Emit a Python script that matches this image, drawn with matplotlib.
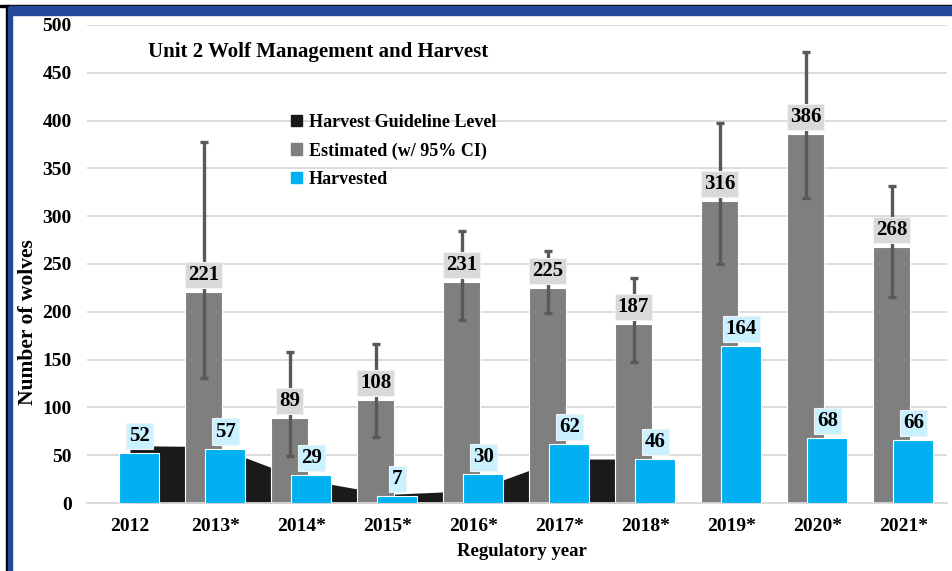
import matplotlib
matplotlib.use("Agg")
import matplotlib.pyplot as plt
from matplotlib.patches import Patch, Rectangle
import numpy as np

years = ["2012", "2013*", "2014*", "2015*", "2016*", "2017*", "2018*", "2019*", "2020*", "2021*"]
estimated = [None, 221, 89, 108, 231, 225, 187, 316, 386, 268]
ci_low = [None, 131, 49, 69, 191, 199, 148, 250, 319, 216]
ci_high = [None, 378, 158, 166, 285, 264, 235, 398, 472, 332]
harvested = [52, 57, 29, 7, 30, 62, 46, 164, 68, 66]
guideline = [60, 59, 25, 9, 13, 46, 46]  # 2012 - 2018

C_BLACK = "#1a1a1a"
C_GRAY = "#7f7f7f"
C_BLUE = "#00b0f0"
C_ERR = "#595959"

plt.rcParams["font.family"] = ["Liberation Serif", "DejaVu Serif"]
plt.rcParams["font.weight"] = "bold"

fig = plt.figure(figsize=(9.53, 5.71), dpi=100)
ax = fig.add_axes([87/953, 1-503/571, (947-87)/953, (503-25)/571])

x = np.arange(len(years))

# guideline area
xg = np.arange(len(guideline))
ax.fill_between(xg, 0, guideline, color=C_BLACK, lw=0, zorder=1)

# estimated bars
gx = [i - 0.145 for i, v in enumerate(estimated) if v is not None]
gv = [v for v in estimated if v is not None]
glo = [v - l for v, l in zip(estimated, ci_low) if v is not None]
ghi = [h - v for v, h in zip(estimated, ci_high) if v is not None]
ax.bar(gx, gv, width=0.44, color=C_GRAY, edgecolor="white", linewidth=0.8, zorder=2)
ax.errorbar(gx, gv, yerr=[glo, ghi], fmt="none", ecolor=C_ERR, elinewidth=2.4,
            capsize=3, capthick=2.4, zorder=2.5)

# harvested bars
bx = x + 0.11
ax.bar(bx, harvested, width=0.465, color=C_BLUE, edgecolor="white", linewidth=0.8, zorder=3)

lab_fs = 15
for xi, v in zip(gx, gv):
    ax.annotate(str(v), (xi, v), xytext=(0, 5), textcoords="offset points",
                ha="center", va="bottom", fontsize=lab_fs, fontweight="bold", zorder=5,
                bbox=dict(boxstyle="square,pad=0.15", fc="#d9d9d9", ec="#f2f2f2", lw=0.8))
for xi, v in zip(bx, harvested):
    ax.annotate(str(v), (xi, v), xytext=(0, 5), textcoords="offset points",
                ha="center", va="bottom", fontsize=lab_fs, fontweight="bold", zorder=5,
                bbox=dict(boxstyle="square,pad=0.15", fc="#c9f1ff", ec="#f2f2f2", lw=0.8))

ax.set_xlim(-0.5, len(years) - 0.5)
ax.set_ylim(0, 500)
ax.set_yticks(np.arange(0, 501, 50))
ax.set_xticks(x)
ax.set_xticklabels(years)
ax.tick_params(axis="both", length=0, labelsize=14)
ax.tick_params(axis="x", pad=11)
ax.tick_params(axis="y", pad=11)
for lab in ax.get_xticklabels() + ax.get_yticklabels():
    lab.set_fontweight("bold")
ax.grid(axis="y", color="#d9d9d9", lw=1.3, zorder=0)
ax.set_axisbelow(True)
for s in ["top", "right", "left"]:
    ax.spines[s].set_visible(False)
ax.spines["bottom"].set_color("#d9d9d9")
ax.spines["bottom"].set_linewidth(1.3)

ax.set_xlabel("Regulatory year", fontsize=13.5, fontweight="bold")
ax.set_ylabel("Number of wolves", fontsize=15.5, fontweight="bold")
ax.xaxis.set_label_coords((522-87)/860, -(551-503)/478, transform=ax.transAxes)
ax.xaxis.label.set_va("center")
ax.yaxis.set_label_coords((28-87)/860, (503-322)/478, transform=ax.transAxes)
ax.yaxis.label.set_va("center")

fig.text(148/953, 1-52/571, "Unit 2 Wolf Management and Harvest", fontsize=15,
         fontweight="bold", ha="left", va="center")

handles = [Patch(color=C_BLACK), Patch(color=C_GRAY), Patch(color=C_BLUE)]
labels = ["Harvest Guideline Level", "Estimated (w/ 95% CI)", "Harvested"]
leg = ax.legend(handles, labels, loc="upper left", bbox_to_anchor=(291/953, 1-114/571),
                bbox_transform=fig.transFigure, frameon=False, fontsize=13,
                handlelength=0.6, handleheight=0.6, handletextpad=0.4,
                labelspacing=0.62, borderpad=0, borderaxespad=0)
for t in leg.get_texts():
    t.set_fontweight("bold")

# slide border
fig.patches.append(Rectangle((0, 1-6.5/571), 1, 2/571, transform=fig.transFigure,
                             color="black", zorder=10))
fig.patches.append(Rectangle((8/953, 1-14.5/571), 1, 8/571, transform=fig.transFigure,
                             color="#24489a", zorder=10))
fig.patches.append(Rectangle((6/953, 0), 2.5/953, 1-5/571, transform=fig.transFigure,
                             color="black", zorder=10))
fig.patches.append(Rectangle((8.5/953, 0), 4/953, 1-6.5/571, transform=fig.transFigure,
                             color="#24489a", zorder=10))

fig.savefig("out.png", dpi=100)
